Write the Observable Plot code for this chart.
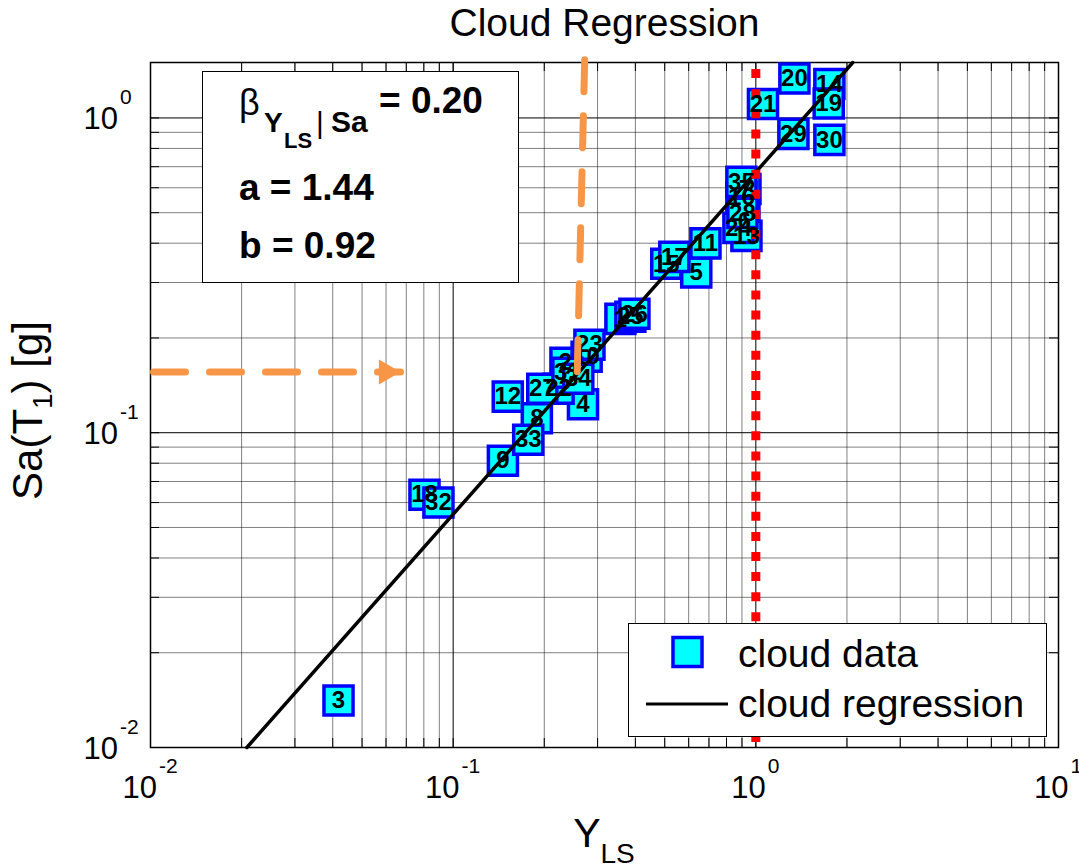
<!DOCTYPE html>
<html>
<head>
<meta charset="utf-8">
<script src="https://cdn.jsdelivr.net/npm/d3@7"></script>
<script src="https://cdn.jsdelivr.net/npm/@observablehq/plot@0.6"></script>
<style>
  body { margin: 0; background: #fff; }
  #chart svg { display: block; }
</style>
</head>
<body>
<div id="chart"></div>
<script>
// ---- cloud data: record id, demand-to-capacity ratio Y_LS, spectral acceleration Sa(T1) [g]
const caseIds = ["1","2","3","4","5","6","7","8","9","10","11","12","13","14","15","16","17","18",
                 "19","20","21","22","23","24","25","26","27","28","29","30","31","32","33","34","35"];
const yLS  = [0.357, 0.235, 0.0418, 0.2685, 0.6355, 0.917, 0.924, 0.189, 0.146, 0.276, 0.6816, 0.1515,
              0.931, 1.750, 0.506, 0.896, 0.538, 0.0804, 1.741, 1.341, 1.056, 0.223, 0.282, 0.876,
              0.385, 0.397, 0.197, 0.903, 1.331, 1.750, 0.2385, 0.0894, 0.177, 0.259, 0.896];
const saT1 = [0.230, 0.1668, 0.0141, 0.1232, 0.3228, 0.471, 0.595, 0.1112, 0.0815, 0.1743, 0.3995, 0.1302,
              0.422, 1.282, 0.344, 0.561, 0.362, 0.0635, 1.112, 1.335, 1.108, 0.1379, 0.1903, 0.4475,
              0.2335, 0.2386, 0.1379, 0.4994, 0.8897, 0.8515, 0.155, 0.0600, 0.0950, 0.1484, 0.6265];

// ---- cloud regression  Y_LS = a * Sa^b , dispersion beta
const regA = 1.44, regB = 0.92, betaYSa = 0.20;
const saFitRange = [0.01, 1.5];

// ---- limit state threshold (Y_LS = 1)
const limitState = [1];

// ---- orange guide: Sa level read on the axis and projected onto the cloud
const guideSa = 0.156;
const arrowYls = [0.01, 0.067];
const guideTopSa = 1.53;
const guideYls = [0.272, 0.257];

// ---- axes
const xDomain = [0.01, 10], yDomain = [0.01, 1.5];
const xTickVals = [0.01, 0.1, 1, 10], xTickExp = ["-2", "-1", "0", "1"];
const yTickVals = [0.01, 0.1, 1],     yTickExp = ["-2", "-1", "0"];
const minorSteps = [2, 3, 4, 5, 6, 7, 8, 9];

const W = 1079, H = 867;
const M = {top: 62, right: 21, bottom: 120, left: 150};
const frameW = W - M.left - M.right, frameH = H - M.top - M.bottom;
const FONT = '"Liberation Sans", Arial, Helvetica, sans-serif';
const ORANGE = "#f79646";
const TICK = 9;

const points = caseIds.map((id, i) => ({id, yls: yLS[i], sa: saT1[i]}))
  .sort((p, q) => +p.id - +q.id);
const fit = saFitRange.map(s => ({sa: s, yls: regA * Math.pow(s, regB)}));
const arrow = arrowYls.map(x => ({yls: x, sa: guideSa}));
const guide = [{yls: guideYls[0], sa: guideTopSa}, {yls: guideYls[1], sa: guideSa}];

const xMinor = xTickVals.slice(0, -1).flatMap(d => minorSteps.map(m => d * m));
const yMinor = yTickVals.flatMap(d => minorSteps.map(m => d * m)).filter(v => v <= yDomain[1]);
const xAll = [...xTickVals, ...xMinor];
const yAll = [...yTickVals, ...yMinor];

const dotted = {stroke: "#000", strokeWidth: 1, strokeDasharray: "1,1", strokeDashoffset: 0.5};

const chart = Plot.plot({
  width: W, height: H,
  marginTop: M.top, marginRight: M.right, marginBottom: M.bottom, marginLeft: M.left,
  style: {fontFamily: FONT, background: "#fff", overflow: "visible"},
  x: {type: "log", domain: xDomain, axis: null},
  y: {type: "log", domain: yDomain, axis: null},
  marks: [
    // grid: dotted minor lines, solid decade lines
    Plot.ruleX(xMinor, dotted),
    Plot.ruleY(yMinor, dotted),
    Plot.ruleX([0.1, 1], {stroke: "#000", strokeWidth: 1}),
    Plot.ruleY([0.1, 1], {stroke: "#000", strokeWidth: 1}),
    // inward ticks on all four sides
    Plot.ruleX(xAll, {stroke: "#000", insetTop: frameH - TICK}),
    Plot.ruleX(xAll, {stroke: "#000", insetBottom: frameH - TICK}),
    Plot.ruleY(yAll, {stroke: "#000", insetRight: frameW - TICK}),
    Plot.ruleY(yAll, {stroke: "#000", insetLeft: frameW - TICK}),
    Plot.frame({stroke: "#000", strokeWidth: 1.5}),
    // cloud data
    Plot.dot(points, {x: "yls", y: "sa", symbol: "square", r: 16.4,
                      fill: "#00ffff", stroke: "#0000ff", strokeWidth: 3.5}),
    // cloud regression
    Plot.line(fit, {x: "yls", y: "sa", stroke: "#000", strokeWidth: 3.5}),
    // limit state
    Plot.ruleX(limitState, {stroke: "#ff0000", strokeWidth: 9, strokeDasharray: "9,11.12", strokeDashoffset: 13}),
    // record ids
    Plot.text(points, {x: "yls", y: "sa", text: "id", fontSize: 24, fontWeight: "bold", fill: "#000"}),
    // orange guides
    Plot.line(arrow, {x: "yls", y: "sa", stroke: ORANGE, strokeWidth: 7, strokeDasharray: "32,24", strokeDashoffset: -3}),
    Plot.dot([arrow[1]], {x: "yls", y: "sa", symbol: "triangle", rotate: 90, r: 9.3, dx: -14.4,
                          fill: ORANGE, stroke: "none"}),
    Plot.line(guide, {x: "yls", y: "sa", stroke: ORANGE, strokeWidth: 7, strokeDasharray: "32,24"}),
    // title
    Plot.text(["Cloud Regression"], {frameAnchor: "top", lineAnchor: "bottom", dy: -27,
                                     fontSize: 39, fill: "#000"})
  ]
});

document.getElementById("chart").appendChild(chart);
const svg = d3.select(chart);
const xs = chart.scale("x"), ys = chart.scale("y");

// ---- tick labels: "10" with a raised exponent
const BASE_FS = 31, EXP_FS = 21;
const expWidth = e => [...e].reduce((s, c) => s + (c === "-" ? 0.333 : 0.556), 0) * EXP_FS;
const baseW = 1.112 * BASE_FS;
const tl = svg.append("g").attr("font-family", FONT).attr("fill", "#000").attr("text-anchor", "start");
xTickVals.forEach((v, i) => {
  const px = xs.apply(v);
  const left = px - (baseW + 2 + expWidth(xTickExp[i])) / 2;
  tl.append("text").attr("x", left).attr("y", M.top + frameH + 51).attr("font-size", BASE_FS).text("10");
  tl.append("text").attr("x", left + baseW + 2).attr("y", M.top + frameH + 26).attr("font-size", EXP_FS).text(xTickExp[i]);
});
yTickVals.forEach((v, i) => {
  const py = ys.apply(v);
  tl.append("text").attr("x", M.left - 32).attr("y", py + 12).attr("font-size", BASE_FS)
    .attr("text-anchor", "end").text("10");
  tl.append("text").attr("x", M.left - 30).attr("y", py - 13).attr("font-size", EXP_FS).text(yTickExp[i]);
});

// ---- axis labels
const yl = svg.append("text")
  .attr("transform", `translate(42,${M.top + frameH / 2 + 6}) rotate(-90)`)
  .attr("text-anchor", "middle").attr("font-family", FONT).attr("font-size", 42).attr("fill", "#000");
yl.append("tspan").text("Sa(T");
yl.append("tspan").attr("font-size", 28).attr("dy", 10).text("1");
yl.append("tspan").attr("dy", -10).text(") [g]");

const xl = svg.append("text")
  .attr("x", M.left + frameW / 2).attr("y", 847)
  .attr("text-anchor", "middle").attr("font-family", FONT).attr("font-size", 41).attr("fill", "#000");
xl.append("tspan").text("Y");
xl.append("tspan").attr("font-size", 28).attr("dy", 16).text("LS");

// ---- regression statistics box
const box = svg.append("g").attr("font-family", FONT).attr("fill", "#000").attr("text-anchor", "start");
box.append("rect").attr("x", 202.5).attr("y", 71.5).attr("width", 316).attr("height", 211)
  .attr("fill", "#fff").attr("stroke", "#000").attr("stroke-width", 1);
box.append("text").attr("x", 239).attr("y", 115).attr("font-size", 36).text("β");
box.append("text").attr("x", 264).attr("y", 132).attr("font-size", 28).attr("font-weight", "bold").text("Y");
box.append("text").attr("x", 284).attr("y", 148).attr("font-size", 22).attr("font-weight", "bold").text("LS");
box.append("text").attr("x", 316).attr("y", 133).attr("font-size", 30).text("|");
box.append("text").attr("x", 331).attr("y", 132).attr("font-size", 30).attr("font-weight", "bold").text("Sa");
box.append("text").attr("x", 379).attr("y", 113).attr("font-size", 37).attr("font-weight", "bold")
  .text(`= ${betaYSa.toFixed(2)}`);
box.append("text").attr("x", 239).attr("y", 200).attr("font-size", 37).attr("font-weight", "bold")
  .text(`a = ${regA.toFixed(2)}`);
box.append("text").attr("x", 239).attr("y", 258).attr("font-size", 37).attr("font-weight", "bold")
  .text(`b = ${regB.toFixed(2)}`);

// ---- legend
const lg = svg.append("g").attr("font-family", FONT).attr("fill", "#000").attr("text-anchor", "start");
lg.append("rect").attr("x", 628.5).attr("y", 623.5).attr("width", 418).attr("height", 113)
  .attr("fill", "#fff").attr("stroke", "#000").attr("stroke-width", 1);
lg.append("rect").attr("x", 673).attr("y", 637.5).attr("width", 29).attr("height", 29)
  .attr("fill", "#00ffff").attr("stroke", "#0000ff").attr("stroke-width", 3.5);
lg.append("line").attr("x1", 646).attr("x2", 728).attr("y1", 704).attr("y2", 704)
  .attr("stroke", "#000").attr("stroke-width", 3);
lg.append("text").attr("x", 738).attr("y", 667).attr("font-size", 39).text("cloud data");
lg.append("text").attr("x", 738).attr("y", 717).attr("font-size", 39).text("cloud regression");
</script>
</body>
</html>
